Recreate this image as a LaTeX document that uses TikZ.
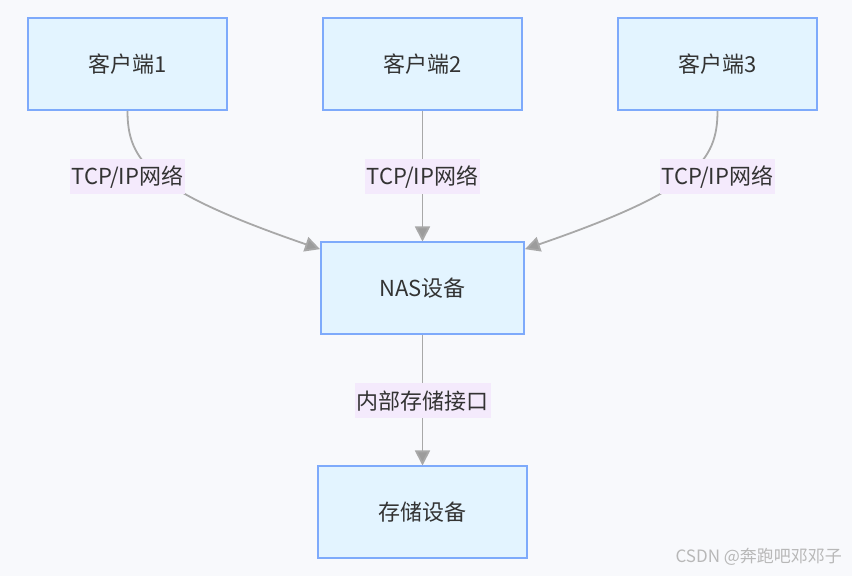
\documentclass[tikz,border=0pt]{standalone}
\usepackage{fontspec}
\setmainfont{Noto Sans CJK SC}
\usetikzlibrary{arrows.meta}

\definecolor{boxfill}{HTML}{E3F4FF}
\definecolor{boxline}{HTML}{7EAAFB}
\definecolor{linkgray}{HTML}{A8A8A8}
\definecolor{tipgray}{HTML}{9C9C9C}
\definecolor{lblfill}{HTML}{F4EAFC}
\definecolor{pagebg}{HTML}{F8F9FC}
\definecolor{txt}{HTML}{333333}

\begin{document}
\begin{tikzpicture}[x=0.5pt,y=0.5pt,>={Triangle[length=7.5pt,width=7.5pt,fill=tipgray]},
  box/.style={rectangle,fill=boxfill,draw=boxline,line width=1pt,minimum height=46pt,
    text=txt,font=\fontsize{11}{13}\selectfont},
  link/.style={->,draw=linkgray,line width=0.9pt},
  lbl/.style={fill=lblfill,text=txt,inner xsep=1pt,inner ysep=0pt,minimum height=17.5pt,
    font=\fontsize{11}{13}\selectfont}]

  % page
  \fill[pagebg] (0,0) rectangle (852,-576);
  \useasboundingbox (0,0) rectangle (852,-576);

  \node[box,minimum width=99.5pt] (c1) at (127.5,-64) {客户端1};
  \node[box,minimum width=99.5pt] (c2) at (422.5,-64) {客户端2};
  \node[box,minimum width=99.5pt] (c3) at (717.5,-64) {客户端3};
  \node[box,minimum width=101.5pt] (nas) at (422.5,-288.5) {NAS设备};
  \node[box,minimum width=104.5pt] (stor) at (422.5,-512.5) {存储设备};

  \path
    (c1.south) edge[link,out=-90,in=161,out distance=25pt,in distance=90pt] (nas.159)
    (c2) edge[link] (nas)
    (c3.south) edge[link,out=-90,in=19,out distance=25pt,in distance=90pt] (nas.21)
    (nas) edge[link] (stor);

  % link labels
  \node[lbl] (l1) at (127.5,-177) {TCP/IP网络};
  \node[lbl] (l2) at (422.5,-177) {TCP/IP网络};
  \node[lbl] (l3) at (717.5,-177) {TCP/IP网络};
  \node[lbl] (l4) at (422.5,-401) {内部存储接口};

  \node[anchor=east,text=black!28,font=\fontsize{8.5}{10}\selectfont] (mark) at (849,-557) {CSDN @奔跑吧邓邓子};
\end{tikzpicture}
\end{document}
